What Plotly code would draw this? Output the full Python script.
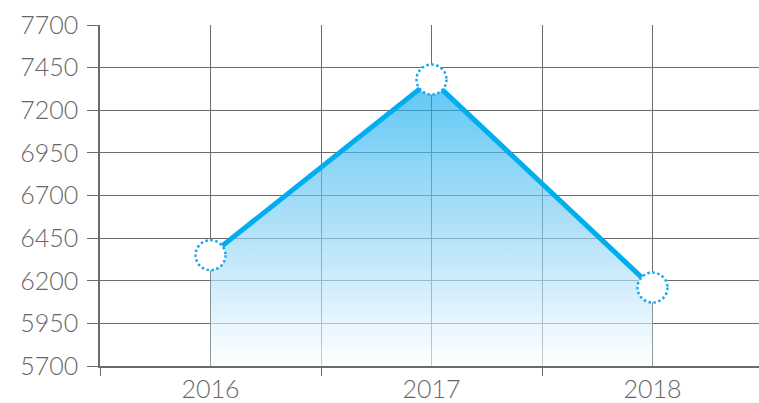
import plotly.graph_objects as go

years = ["2016", "2017", "2018"]
values = [6350, 7380, 6160]
y_ticks = [5700, 5950, 6200, 6450, 6700, 6950, 7200, 7450, 7700]

idx = list(range(len(years)))
y_min, y_max = y_ticks[0], y_ticks[-1]

line_color = "#00aeef"
grid_color = "#6b6b6b"
font = dict(family="Lato", size=25, color="#666666", weight=300)

fig = go.Figure()
# baseline for area fill
fig.add_trace(go.Scatter(x=idx, y=[y_min] * len(idx), mode="lines",
                         line=dict(width=0), hoverinfo="skip", showlegend=False))
fig.add_trace(go.Scatter(
    x=idx, y=values, mode="lines", fill="tonexty",
    fillgradient=dict(type="vertical", start=y_min, stop=max(values),
                      colorscale=[[0, "rgba(255,255,255,0.65)"],
                                  [0.5, "rgba(130,207,244,0.65)"],
                                  [1, "rgba(7,169,238,0.65)"]]),
    line=dict(color=line_color, width=5), showlegend=False))

shapes = []
for i, v in zip(idx, values):
    shapes.append(dict(type="circle", xref="x", yref="y", xsizemode="pixel", ysizemode="pixel",
                       xanchor=i, yanchor=v, x0=-15, x1=15, y0=-15, y1=15,
                       fillcolor="white", line=dict(color="#1aa8ec", width=2.5, dash="2.5px,2.5px"),
                       layer="above"))

fig.update_layout(
    width=763, height=403, margin=dict(l=100, r=0, t=25, b=37, autoexpand=False),
    paper_bgcolor="white", plot_bgcolor="white", shapes=shapes, font=font,
)
fig.update_xaxes(
    range=[-0.5, len(years) - 0.5], tickvals=idx, ticktext=years, automargin=False,
    showgrid=True, gridcolor=grid_color, gridwidth=1, ticks="", zeroline=False,
    showline=True, linecolor=grid_color, linewidth=1.5, tickfont=font,
    minor=dict(tick0=-0.5, dtick=1, showgrid=True, gridcolor=grid_color, gridwidth=1,
               ticks="outside", ticklen=8, tickcolor=grid_color, tickwidth=1),
)
fig.update_yaxes(
    range=[y_min, y_max], tickvals=y_ticks, showgrid=True, gridcolor=grid_color, gridwidth=1,
    ticks="outside", ticklen=11, tickcolor=grid_color, tickwidth=1, zeroline=False, automargin=False,
    showline=True, linecolor=grid_color, linewidth=1.5, tickfont=font, ticklabelstandoff=4,
)

fig.write_html("out.html", config={"displayModeBar": False},
               post_script="document.body.style.margin='0';document.body.style.overflow='hidden';")
